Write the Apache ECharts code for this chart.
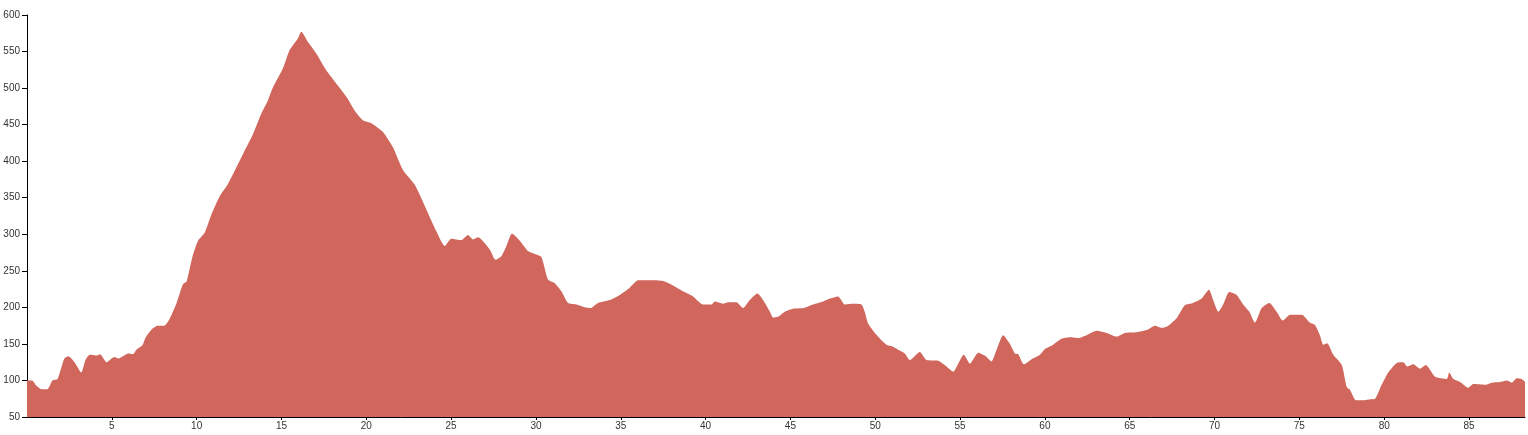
<!DOCTYPE html>
<html>
<head>
<meta charset="utf-8">
<script src="https://cdn.jsdelivr.net/npm/echarts@6/dist/echarts.min.js"></script>
<style>
html,body{margin:0;padding:0;background:#fff;}
#chart{width:1528px;height:435px;}
</style>
</head>
<body>
<div id="chart"></div>
<script>
const distances = [0,0.3,0.55,0.85,1.2,1.5,1.8,2.2,2.45,2.8,3.2,3.45,3.7,4.1,4.3,4.7,5.15,5.4,5.65,5.95,6.25,6.45,6.8,7.0,7.4,7.7,8.1,8.4,8.8,9.2,9.4,9.75,10.08,10.47,10.87,11.36,11.85,12.44,12.93,13.32,13.81,14.2,14.5,15.09,15.48,15.97,16.17,16.56,17.06,17.65,18.24,18.83,19.32,19.8,20.3,20.98,21.57,22.16,22.85,23.54,24.13,24.62,25.01,25.6,26.0,26.29,26.59,27.28,27.61,27.96,28.26,28.59,29.05,29.53,29.93,30.32,30.71,31.11,31.5,31.89,32.39,32.78,33.21,33.66,34.35,34.94,35.53,36.02,36.9,37.49,38.08,38.67,39.26,39.85,40.35,40.54,41.03,41.33,41.82,42.21,42.6,43.06,43.39,43.79,43.98,44.27,44.67,45.16,45.75,46.34,46.93,47.33,47.81,48.21,48.7,49.19,49.38,49.58,49.98,50.37,50.66,50.96,51.35,51.74,52.04,52.63,53.02,53.71,54.1,54.6,54.89,55.22,55.58,56.07,56.46,56.85,57.15,57.54,57.94,58.23,58.43,58.76,59.22,59.71,60.0,60.49,60.98,61.47,61.96,62.55,63.04,63.64,64.23,64.72,65.41,66.0,66.49,66.88,67.28,67.76,68.25,68.74,69.24,69.67,69.92,70.22,70.51,70.87,71.3,71.69,72.05,72.38,72.78,73.23,73.66,74.02,74.45,75.14,75.63,75.92,76.21,76.41,76.64,77.0,77.5,77.79,77.99,78.33,78.77,79.06,79.46,79.85,80.24,80.74,81.13,81.37,81.72,82.11,82.45,83.0,83.69,83.83,84.08,84.47,84.96,85.25,85.94,86.34,86.83,87.22,87.52,87.81,88.1,88.3];
const elevations = [100,100,93,88,88,100,102,130,133,125,111,128,135,134,136,125,132,130,133,137,136,142,148,159,171,175,175,184,205,232,235,269,291,302,327,352,369,396,419,437,465,483,501,527,552,568,577,563,547,524,506,488,469,456,452,440,419,388,368,334,304,284,294,292,299,293,296,279,265,270,284,301,291,277,273,269,238,233,222,206,204,201,199,206,210,217,227,237,237,236,230,222,215,204,204,208,205,207,207,199,210,219,210,194,186,187,194,198,199,204,208,212,215,204,205,204,194,178,165,155,149,147,142,137,128,139,128,127,121,112,123,135,123,138,134,126,142,162,150,137,136,122,129,135,143,149,157,159,158,163,168,165,160,165,166,169,175,172,175,185,203,206,212,224,210,194,204,221,217,204,194,179,199,206,194,182,190,190,179,176,162,149,151,135,121,91,87,73,73,74,75,94,111,124,125,119,122,116,121,105,102,111,102,98,90,95,94,97,98,100,97,103,102,98];
const yTicks = [50,100,150,200,250,300,350,400,450,500,550,600];

const chart = echarts.init(document.getElementById('chart'), null, {renderer:'canvas'});
const font = 'Liberation Sans, Arial, sans-serif';
chart.setOption({
  animation:false,
  grid:{left:27,right:3,top:15,bottom:18,containLabel:false},
  xAxis:{
    type:'value', min:0, max:distances[distances.length-1], interval:5,
    axisLine:{show:true,lineStyle:{color:'#000',width:1}},
    axisTick:{show:true,length:3,lineStyle:{color:'#000'}},
    axisLabel:{showMinLabel:false,showMaxLabel:false,color:'#333',fontSize:10,fontFamily:font,margin:4},
    splitLine:{show:false}
  },
  yAxis:{
    type:'value', min:yTicks[0], max:yTicks[yTicks.length-1], interval:50,
    axisLine:{show:true,lineStyle:{color:'#000',width:1}},
    axisTick:{show:true,length:5,lineStyle:{color:'#000'}},
    axisLabel:{color:'#333',fontSize:10,fontFamily:font,margin:7},
    splitLine:{show:false}
  },
  series:[{
    type:'line',
    data:distances.map((d,i)=>[d,elevations[i]]),
    showSymbol:false,
    symbol:'none',
    smooth:0.2,
    lineStyle:{width:0},
    areaStyle:{color:'#d0665c',opacity:1,origin:'start'},
    z:1
  }]
});
</script>
</body>
</html>
